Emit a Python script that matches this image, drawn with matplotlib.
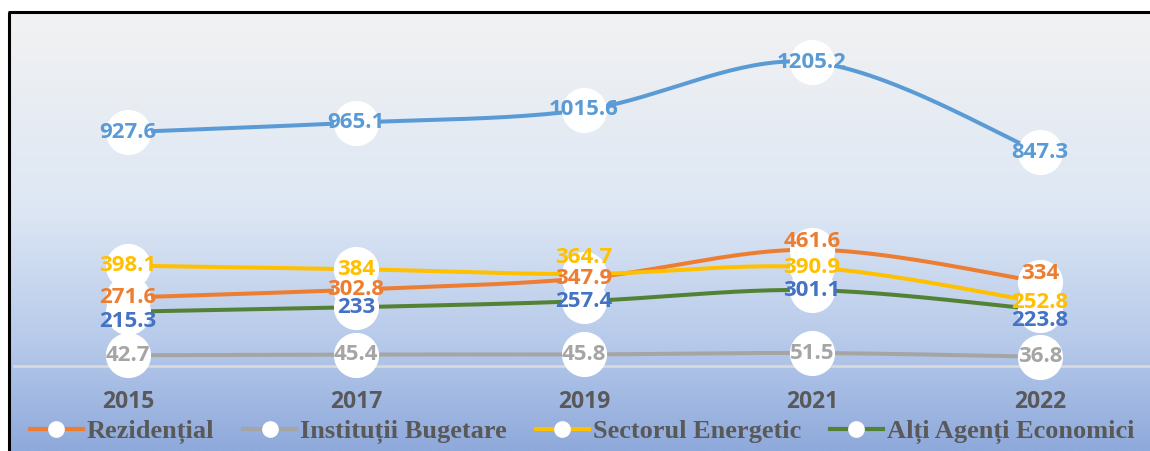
import numpy as np
import matplotlib
matplotlib.use("Agg")
import matplotlib.pyplot as plt
from matplotlib.lines import Line2D
from matplotlib.colors import LinearSegmentedColormap

# ---------------- data ----------------
years = ["2015", "2017", "2019", "2021", "2022"]
total = [927.6, 965.1, 1015.6, 1205.2, 847.3]
rezidential = [271.6, 302.8, 347.9, 461.6, 334]
institutii = [42.7, 45.4, 45.8, 51.5, 36.8]
energetic = [398.1, 384, 364.7, 390.9, 252.8]
alti_agenti = [215.3, 233, 257.4, 301.1, 223.8]

legend_names = ["Rezidențial", "Instituții Bugetare", "Sectorul Energetic", "Alți Agenți Economici"]

# ---------------- style ----------------
W, H = 1150, 451
LABEL_FONT = "Open Sans"
fig = plt.figure(figsize=(W / 100, H / 100), dpi=100)

# background gradient inside chart frame
bg = fig.add_axes([0, 0, 1, 1])
bg.set_xlim(0, W)
bg.set_ylim(H, 0)
bg.axis("off")
cmap = LinearSegmentedColormap.from_list(
    "g", [(0.0, "#F2F2F2"), (0.45, "#DDE7F4"), (0.75, "#B7CAEA"), (1.0, "#8EA9DB")])
grad = np.linspace(0, 1, 256).reshape(-1, 1)
bg.imshow(grad, cmap=cmap, aspect="auto", extent=(9, W, H, 12), origin="upper",
          interpolation="bilinear")
bg.plot([8.5, 8.5], [11.5, H], color="black", lw=2.2, solid_capstyle="butt")
bg.plot([7.5, W], [12, 12], color="black", lw=2.2, solid_capstyle="butt")

# main axes
ax = fig.add_axes([14 / W, (H - 366) / H, 1140 / W, (366 - 13) / H])
ax.patch.set_alpha(0)
ax.set_xlim(-0.5, len(years) - 0.5)
ax.set_ylim(0, 1400)
for s in ax.spines.values():
    s.set_visible(False)
ax.set_yticks([])
ax.set_xticks(range(len(years)))
ax.set_xticklabels(years, fontfamily=LABEL_FONT, fontweight="bold", fontsize=16.5, color="#595959")
ax.tick_params(axis="x", length=0, pad=17.5)
ax.axhline(0, color="#D9D9D9", lw=2, zorder=1, clip_on=False)


def smooth(vals, n=40):
    x = np.arange(len(vals), dtype=float)
    y = np.asarray(vals, dtype=float)
    P = np.column_stack([x, y])
    out = []
    m = len(P)
    for i in range(m - 1):
        p0 = P[max(i - 1, 0)]
        p1 = P[i]
        p2 = P[i + 1]
        p3 = P[min(i + 2, m - 1)]
        c1 = p1 + (p2 - p0) / 6
        c2 = p2 - (p3 - p1) / 6
        t = np.linspace(0, 1, n)[:, None]
        seg = ((1 - t) ** 3) * p1 + 3 * ((1 - t) ** 2) * t * c1 + 3 * (1 - t) * t ** 2 * c2 + t ** 3 * p2
        out.append(seg if i == 0 else seg[1:])
    s = np.vstack(out)
    return s[:, 0], s[:, 1]


series = [
    # values, line colour, label colour, label offsets (px, up)
    (rezidential, "#ED7D31", "#ED7D31", [0, 0, 0, 8, 8]),
    (institutii, "#A5A5A5", "#A5A5A5", [0, 0, 0, 0, 0]),
    (energetic, "#FFC000", "#FFC000", [0, 0, 17, 0, 0]),
    (alti_agenti, "#548235", "#4472C4", [-10, 0, 0, 0, -11]),
    (total, "#5B9BD5", "#5B9BD5", [0, 0, 0, 0, 0]),
]

xs = np.arange(len(years))
for vals, lc, tc, offs in series:
    sx, sy = smooth(vals)
    ax.plot(sx, sy, color=lc, lw=2.9, zorder=2, clip_on=False, solid_capstyle="round")
for vals, lc, tc, offs in series:
    ax.plot(xs, vals, ls="none", marker="o", markersize=31.5, markerfacecolor="white",
            markeredgecolor="white", zorder=3, clip_on=False)
for vals, lc, tc, offs in series:
    for i, v in enumerate(vals):
        ax.annotate(f"{v:g}", (i, v), xytext=(0, offs[i] * 0.72), textcoords="offset points",
                    ha="center", va="center", fontfamily=LABEL_FONT, fontweight="bold",
                    fontsize=16, color=tc, zorder=4, annotation_clip=False)

handles = [Line2D([], [], color=c, lw=3, marker="o", markersize=11,
                  markerfacecolor="white", markeredgecolor="white")
           for c in ["#ED7D31", "#A5A5A5", "#FFC000", "#548235"]]
leg = fig.legend(handles, legend_names, loc="center", bbox_to_anchor=(582 / W, 1 - 432 / H),
                 ncol=4, frameon=False, handlelength=2.0, handletextpad=0.15,
                 columnspacing=1.1, borderpad=0, borderaxespad=0,
                 prop={"family": "Liberation Serif", "weight": "bold", "size": 19})
for t in leg.get_texts():
    t.set_color("#595959")

fig.savefig("out.png", dpi=100)
